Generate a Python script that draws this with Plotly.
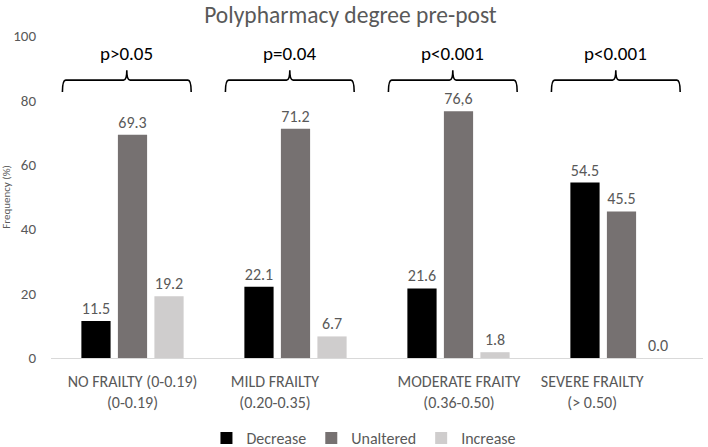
import plotly.graph_objects as go

categories = ["NO FRAILTY (0-0.19)<br>(0-0.19)", "MILD FRAILTY<br>(0.20-0.35)",
              "MODERATE FRAITY<br>(0.36-0.50)", "SEVERE FRAILTY<br>(> 0.50)"]
decrease = [11.5, 22.1, 21.6, 54.5]
unaltered = [69.3, 71.2, 76.6, 45.5]
increase = [19.2, 6.7, 1.8, 0.0]
decrease_text = ["11.5", "22.1", "21.6", "54.5"]
unaltered_text = ["69.3", "71.2", "76,6", "45.5"]
increase_text = ["19.2", "6.7", "1.8", "0.0"]
p_labels = ["p>0.05", "p=0.04", "p<0.001", "p<0.001"]

FONT = "Carlito, Lato, sans-serif"
GREY_TXT = "#595959"
xs = list(range(len(categories)))

fig = go.Figure()
series = [("Decrease", decrease, decrease_text, "#000000"),
          ("Unaltered", unaltered, unaltered_text, "#767171"),
          ("Increase", increase, increase_text, "#CFCDCD")]
for name, vals, txt, col in series:
    fig.add_trace(go.Bar(
        x=xs, y=vals, name=name, marker=dict(color=col, line=dict(width=0)),
        text=txt, textposition="outside", cliponaxis=False,
        textfont=dict(family=FONT, size=16, color=GREY_TXT),
    ))

# brackets with p-values
y_h, y_end, y_tip, y_txt = 86.3, 82.6, 89.4, 94.7
d = 0.02
for i, lab in enumerate(p_labels):
    x0, x1 = i - 0.43, i + 0.36
    xm = (x0 + x1) / 2
    path = (f"M {x0},{y_end} Q {x0},{y_h} {x0+d},{y_h} L {xm-d},{y_h} "
            f"Q {xm},{y_h} {xm},{y_tip} Q {xm},{y_h} {xm+d},{y_h} "
            f"L {x1-d},{y_h} Q {x1},{y_h} {x1},{y_end}")
    fig.add_shape(type="path", path=path, xref="x", yref="y",
                  line=dict(color="#000000", width=1.6))
    fig.add_annotation(x=xm, y=y_txt, xref="x", yref="y", text=lab,
                       showarrow=False, yanchor="middle",
                       font=dict(family=FONT, size=19, color="#000000"))

fig.update_layout(
    width=708, height=447,
    margin=dict(l=51, r=5, t=36, b=89),
    paper_bgcolor="white", plot_bgcolor="white",
    barmode="group", bargap=0.328, bargroupgap=0.2,
    title=dict(text="Polypharmacy degree pre-post", x=0.495, xanchor="center",
               y=0.966, yanchor="middle",
               font=dict(family=FONT, size=23.5, color=GREY_TXT)),
    font=dict(family=FONT, color=GREY_TXT),
    legend=dict(orientation="h", x=0.48, xanchor="center",
                yref="container", y=0.02, yanchor="middle",
                font=dict(family=FONT, size=16, color=GREY_TXT),
                itemwidth=30, traceorder="normal"),
    showlegend=True,
)
fig.update_xaxes(range=[-0.5, 3.5], tickmode="array",
                 tickvals=[0.0, 0.874, 2.003, 2.82], ticktext=categories,
                 tickangle=0,
                 showgrid=False, zeroline=False, showline=True,
                 linecolor="#D9D9D9", linewidth=1, ticks="",
                 ticklabelstandoff=9, automargin=False,
                 tickfont=dict(family=FONT, size=16, color=GREY_TXT))
fig.update_yaxes(range=[0, 100], tickvals=[0, 20, 40, 60, 80, 100],
                 showgrid=False, zeroline=False, showline=False, ticks="",
                 ticklabelstandoff=14, automargin=False,
                 tickfont=dict(family=FONT, size=15, color=GREY_TXT),
                 title=dict(text="Frequency (%)", standoff=4,
                            font=dict(family=FONT, size=11, color=GREY_TXT)))

fig.write_html("out.html", config={"displayModeBar": False},
               post_script="document.body.style.margin='0px';")
